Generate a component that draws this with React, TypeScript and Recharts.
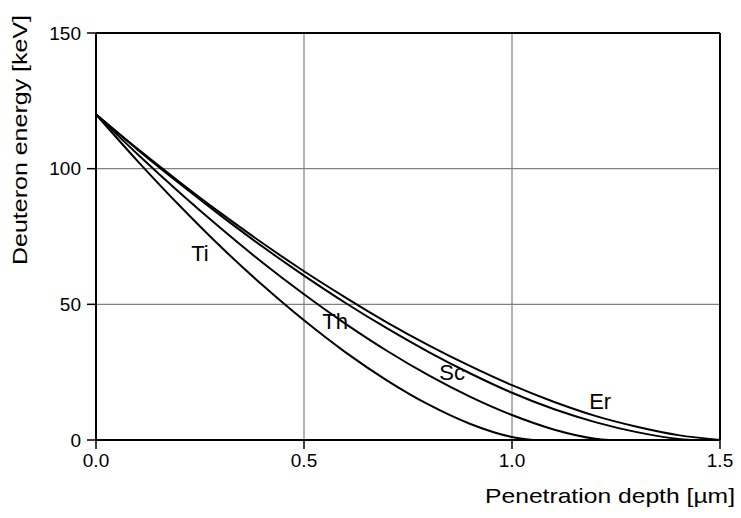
import React from 'react';
import { LineChart, Line, XAxis, YAxis, CartesianGrid, ReferenceLine, ReferenceDot, Label } from 'recharts';

const tiDepth = [0, 0.1, 0.2, 0.3, 0.4, 0.5, 0.6, 0.7, 0.8, 0.9, 1.0, 1.05];
const tiEnergy = [120, 102.8, 86.5, 71.2, 57.1, 44.1, 32.3, 21.9, 13.0, 5.9, 1.1, 0];

const thDepth = [0, 0.1, 0.2, 0.3, 0.4, 0.5, 0.6, 0.7, 0.8, 0.9, 1.0, 1.1, 1.2, 1.235];
const thEnergy = [120, 105.3, 91.3, 78.0, 65.4, 53.7, 42.8, 32.8, 23.8, 15.9, 9.2, 3.9, 0.5, 0];

const scDepth = [0, 0.1, 0.2, 0.3, 0.4, 0.5, 0.6, 0.7, 0.8, 0.9, 1.0, 1.1, 1.2, 1.3, 1.4, 1.43];
const scEnergy = [120, 107.0, 94.6, 82.7, 71.3, 60.6, 50.5, 41.1, 32.4, 24.5, 17.4, 11.4, 6.6, 2.9, 0.4, 0];

const erDepth = [0, 0.1, 0.2, 0.3, 0.4, 0.5, 0.6, 0.7, 0.8, 0.9, 1.0, 1.1, 1.2, 1.3, 1.4, 1.5];
const erEnergy = [120, 107.3, 95.2, 83.6, 72.6, 62.2, 52.5, 43.3, 34.9, 27.2, 20.2, 14.1, 8.9, 4.9, 1.8, 0];

const xTicks = [0, 0.5, 1.0, 1.5];
const yTicks = [0, 50, 100, 150];

const curveNames = ['Ti', 'Th', 'Sc', 'Er'];
const labelDepth = [0.25, 0.575, 0.856, 1.212];
const labelEnergy = [68.7, 43.9, 25.1, 14.4];

const xTitle = 'Penetration depth [\u00b5m]';
const yTitle = 'Deuteron energy [keV]';

const FONT = '"Liberation Sans", Arial, sans-serif';

const toPoints = (d: number[], e: number[]) => d.map((x, i) => ({ x, y: e[i] }));

const series = [
  toPoints(tiDepth, tiEnergy),
  toPoints(thDepth, thEnergy),
  toPoints(scDepth, scEnergy),
  toPoints(erDepth, erEnergy),
];

export default function App() {
  return (
    <div style={{ position: 'absolute', left: 0, top: 0, width: 741, height: 518, background: '#fff' }}>
      <LineChart width={741} height={518} margin={{ top: 33, right: 21, bottom: 0, left: 0 }}>
        <CartesianGrid stroke="#808080" strokeWidth={1.2} vertical horizontal />
        <XAxis
          type="number"
          dataKey="x"
          domain={[0, 1.5]}
          ticks={xTicks}
          tickFormatter={(v: number) => v.toFixed(1)}
          height={78}
          tickSize={9}
          tickMargin={5}
          axisLine={{ stroke: '#000', strokeWidth: 2 }}
          tickLine={{ stroke: '#000', strokeWidth: 1.5 }}
          tick={{ fill: '#000', fontSize: 19, fontFamily: FONT }}
          allowDuplicatedCategory={false}
        >
          <Label
            content={(props: any) => {
              const vb = props.viewBox || { x: 96, y: 440, width: 624, height: 78 };
              const right = vb.x + vb.width + 15;
              return (
                <text
                  x={right - 250}
                  y={vb.y + 63}
                  textLength={250}
                  lengthAdjust="spacingAndGlyphs"
                  fill="#000"
                  fontSize={21}
                  fontFamily={FONT}
                >
                  {xTitle}
                </text>
              );
            }}
          />
        </XAxis>
        <YAxis
          type="number"
          domain={[0, 150]}
          ticks={yTicks}
          width={96}
          tickSize={9}
          tickMargin={6}
          axisLine={{ stroke: '#000', strokeWidth: 2 }}
          tickLine={{ stroke: '#000', strokeWidth: 1.5 }}
          tick={{ fill: '#000', fontSize: 19, fontFamily: FONT }}
        >
          <Label
            content={(props: any) => {
              const vb = props.viewBox || { x: 0, y: 33, width: 96, height: 407 };
              const cx = vb.x + 27;
              const cy = vb.y + 107;
              return (
                <text
                  x={cx - 125}
                  y={cy}
                  textLength={250}
                  lengthAdjust="spacingAndGlyphs"
                  fill="#000"
                  fontSize={21}
                  fontFamily={FONT}
                  transform={`rotate(-90 ${cx} ${cy})`}
                >
                  {yTitle}
                </text>
              );
            }}
          />
        </YAxis>
        <ReferenceLine y={150} stroke="#000" strokeWidth={2} />
        <ReferenceLine x={1.5} stroke="#000" strokeWidth={2} />
        {series.map((pts, i) => (
          <Line
            key={curveNames[i]}
            data={pts}
            dataKey="y"
            type="monotone"
            stroke="#000"
            strokeWidth={2}
            dot={false}
            isAnimationActive={false}
          />
        ))}
        {curveNames.map((name, i) => (
          <ReferenceDot key={'l' + name} x={labelDepth[i]} y={labelEnergy[i]} r={0} fill="none" stroke="none">
            <Label value={name} position="center" fill="#000" fontSize={22} fontFamily={FONT} />
          </ReferenceDot>
        ))}
      </LineChart>
    </div>
  );
}
